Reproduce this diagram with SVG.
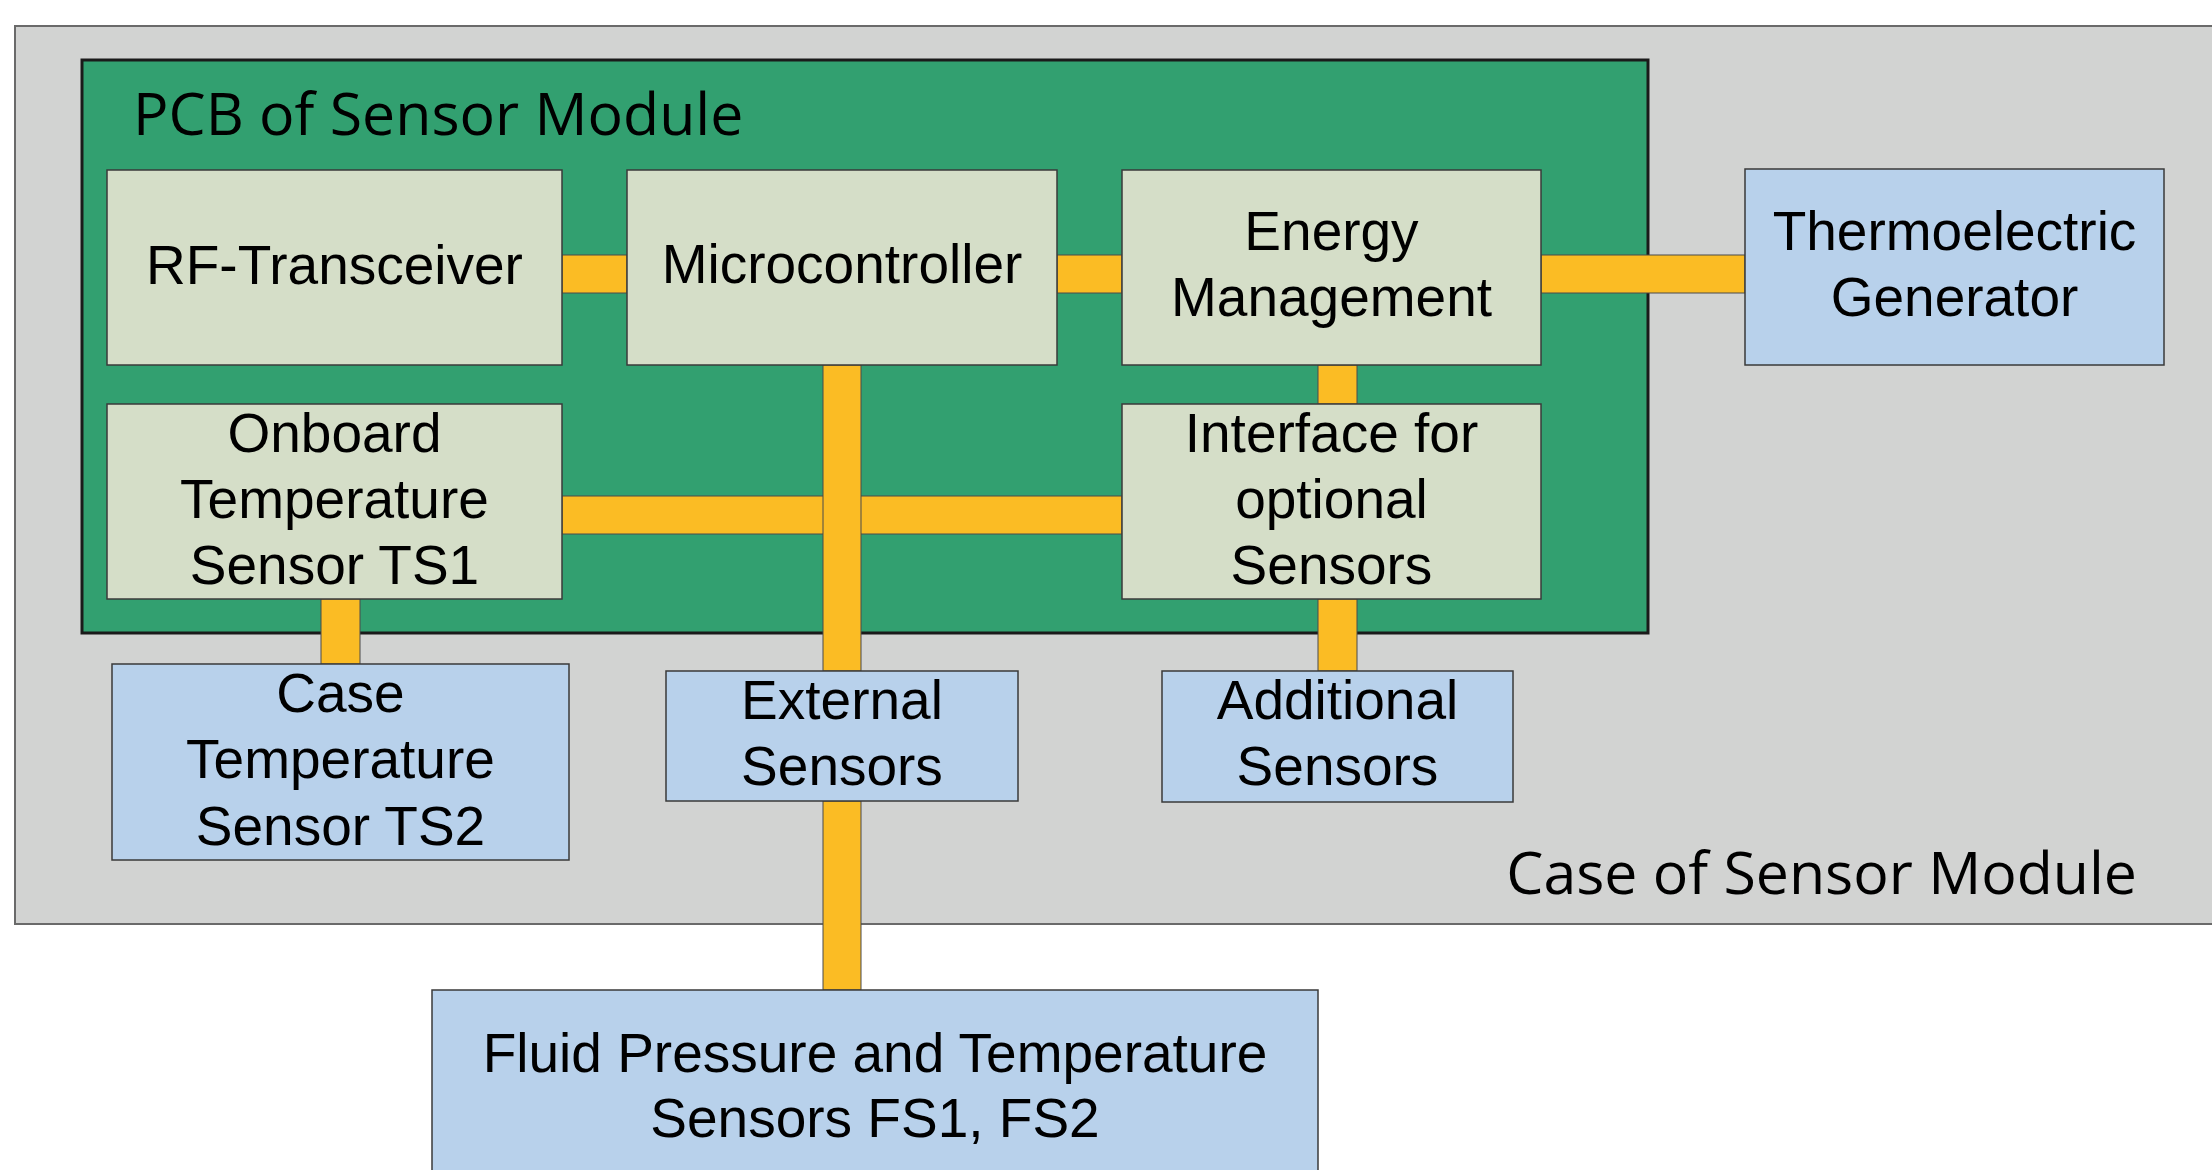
<svg xmlns="http://www.w3.org/2000/svg" width="2212" height="1170" viewBox="0 0 2212 1170">
<style>
.lbl{font-family:"Liberation Sans",Arial,sans-serif;font-size:55px;fill:#000;text-anchor:middle}
.ttl{font-family:"Open Sans","Noto Sans",sans-serif;font-size:59px;fill:#000}
.pcbnode{fill:#d5dec8;stroke:#3a3a3a;stroke-width:1.5}
.extnode{fill:#b8d1eb;stroke:#3a3a3a;stroke-width:1.5}
.bus{fill:#fbbc24;stroke:#4a4a4a;stroke-width:1}
</style>
<rect width="2212" height="1170" fill="#ffffff"/>
<g id="case">
<rect x="15" y="26" width="2210" height="898" fill="#d2d3d2" stroke="#6a6a6a" stroke-width="2"/>
<text class="ttl" x="2137" y="894" text-anchor="end">Case of Sensor Module</text>
</g>
<g id="pcb">
<rect x="82" y="60" width="1566" height="573" fill="#32a070" stroke="#1a1a1a" stroke-width="3"/>
<text class="ttl" x="133" y="135">PCB of Sensor Module</text>
</g>
<g id="connectors">
<rect class="bus" x="562" y="255" width="65" height="38"/>
<rect class="bus" x="1057" y="255" width="65" height="38"/>
<rect class="bus" x="1541" y="255" width="204" height="38"/>
<rect class="bus" x="1318" y="365" width="39" height="39"/>
<rect class="bus" x="562" y="496" width="560" height="38"/>
<rect class="bus" x="823" y="365" width="38" height="306"/>
<rect class="bus" x="321" y="599" width="39" height="65"/>
<rect class="bus" x="1318" y="599" width="39" height="72"/>
<rect class="bus" x="823" y="801" width="38" height="189"/>
</g>
<g id="rf-transceiver">
<rect class="pcbnode" x="107" y="170" width="455" height="195"/>
<text class="lbl" x="334.5" y="284">RF-Transceiver</text>
</g>
<g id="microcontroller">
<rect class="pcbnode" x="627" y="170" width="430" height="195"/>
<text class="lbl" x="842" y="283">Microcontroller</text>
</g>
<g id="energy-management">
<rect class="pcbnode" x="1122" y="170" width="419" height="195"/>
<text class="lbl" x="1331.5" y="250">Energy</text>
<text class="lbl" x="1331.5" y="316">Management</text>
</g>
<g id="thermoelectric-generator">
<rect class="extnode" x="1745" y="169" width="419" height="196"/>
<text class="lbl" x="1954.5" y="250">Thermoelectric</text>
<text class="lbl" x="1954.5" y="316">Generator</text>
</g>
<g id="onboard-temperature-sensor">
<rect class="pcbnode" x="107" y="404" width="455" height="195"/>
<text class="lbl" x="334.5" y="452">Onboard</text>
<text class="lbl" x="334.5" y="518">Temperature</text>
<text class="lbl" x="334.5" y="584">Sensor TS1</text>
</g>
<g id="interface-optional-sensors">
<rect class="pcbnode" x="1122" y="404" width="419" height="195"/>
<text class="lbl" x="1331.5" y="452">Interface for</text>
<text class="lbl" x="1331.5" y="518">optional</text>
<text class="lbl" x="1331.5" y="584">Sensors</text>
</g>
<g id="case-temperature-sensor">
<rect class="extnode" x="112" y="664" width="457" height="196"/>
<text class="lbl" x="340.5" y="712">Case</text>
<text class="lbl" x="340.5" y="778">Temperature</text>
<text class="lbl" x="340.5" y="845">Sensor TS2</text>
</g>
<g id="external-sensors">
<rect class="extnode" x="666" y="671" width="352" height="130"/>
<text class="lbl" x="842" y="719">External</text>
<text class="lbl" x="842" y="785">Sensors</text>
</g>
<g id="additional-sensors">
<rect class="extnode" x="1162" y="671" width="351" height="131"/>
<text class="lbl" x="1337.5" y="719">Additional</text>
<text class="lbl" x="1337.5" y="785">Sensors</text>
</g>
<g id="fluid-sensors">
<rect class="extnode" x="432" y="990" width="886" height="200"/>
<text class="lbl" x="875" y="1072">Fluid Pressure and Temperature</text>
<text class="lbl" x="875" y="1137">Sensors FS1, FS2</text>
</g>
</svg>
